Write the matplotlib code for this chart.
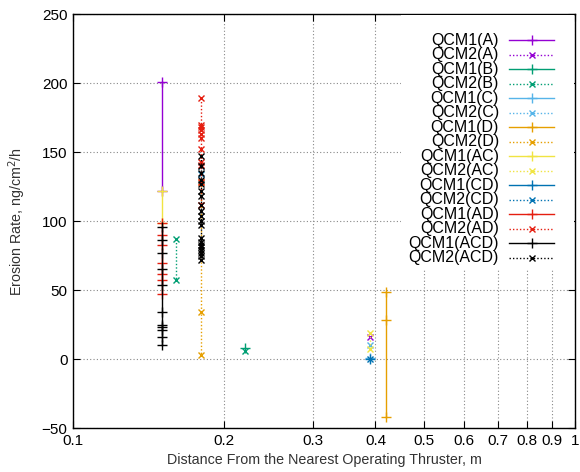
import numpy as np
import matplotlib
matplotlib.use('Agg')
import matplotlib.pyplot as plt
from matplotlib.patches import Rectangle

nan = np.nan

# erosion rate (ng/cm^2/h) vs distance (m) for each QCM / thruster combination
labels = ['QCM1(A)', 'QCM2(A)', 'QCM1(B)', 'QCM2(B)', 'QCM1(C)', 'QCM2(C)',
          'QCM1(D)', 'QCM2(D)', 'QCM1(AC)', 'QCM2(AC)', 'QCM1(CD)', 'QCM2(CD)',
          'QCM1(AD)', 'QCM2(AD)', 'QCM1(ACD)', 'QCM2(ACD)']

dist_a1 = [0.15, 0.15]
rate_a1 = [201, 122]
dist_a2 = [0.39]
rate_a2 = [16]
dist_b1 = [0.22]
rate_b1 = [8]
dist_b2 = [0.16, 0.16, nan, 0.22]
rate_b2 = [87, 57, nan, 6]
dist_c1 = [0.39]
rate_c1 = [1]
dist_c2 = [0.18, nan, 0.39]
rate_c2 = [140, nan, 10]
dist_d1 = [0.42, 0.42, 0.42]
rate_d1 = [49, 28, -42]
dist_d2 = [0.18, 0.18, 0.18]
rate_d2 = [128, 34, 3]
dist_ac1 = [0.15, 0.15]
rate_ac1 = [122, 99]
dist_ac2 = [0.39, 0.39]
rate_ac2 = [19, 7]
dist_cd1 = [0.39]
rate_cd1 = [0]
dist_cd2 = [0.18, nan, 0.39]
rate_cd2 = [134, nan, 0]
rate_ad1 = [99, 90, 83, 70, 62, 57, 47]
dist_ad1 = [0.15] * len(rate_ad1)
rate_ad2 = [189, 170, 168, 166, 163, 160, 152, 143, 141, 128, 112]
dist_ad2 = [0.18] * len(rate_ad2)
rate_acd1 = [96, 86, 77, 65, 54, 34, 25, 23, 21, 16, 10]
dist_acd1 = [0.15] * len(rate_acd1)
rate_acd2 = [147, 140, 135, 130, 127, 122, 118, 112, 107, 104, 100, 97,
             88, 85, 83, 81, 79, 77, 75, 72]
dist_acd2 = [0.18] * len(rate_acd2)

dists = [dist_a1, dist_a2, dist_b1, dist_b2, dist_c1, dist_c2, dist_d1, dist_d2,
         dist_ac1, dist_ac2, dist_cd1, dist_cd2, dist_ad1, dist_ad2, dist_acd1, dist_acd2]
rates = [rate_a1, rate_a2, rate_b1, rate_b2, rate_c1, rate_c2, rate_d1, rate_d2,
         rate_ac1, rate_ac2, rate_cd1, rate_cd2, rate_ad1, rate_ad2, rate_acd1, rate_acd2]

# gnuplot-like palette, one colour per thruster combination
colors = ['#9400d3', '#009e73', '#56b4e9', '#e69f00',
          '#f0e442', '#0072b2', '#e51e10', '#000000']

plt.rcParams['font.family'] = ['Liberation Sans', 'DejaVu Sans']

fig = plt.figure(figsize=(5.8, 4.72), dpi=100)
ax = fig.add_axes([0.126, 0.093, 0.866, 0.877])

for i, (lab, x, y) in enumerate(zip(labels, dists, rates)):
    c = colors[i // 2]
    if i % 2 == 0:
        ax.plot(x, y, color=c, ls='-', lw=1, marker='+', ms=7, mew=1, zorder=3)
    else:
        ax.plot(x, y, color=c, ls=(0, (1, 1.5)), lw=1, marker='x', ms=5,
                mew=1, zorder=3)

ax.set_xscale('log')
ax.set_xlim(0.1, 1)
ax.set_ylim(-50, 250)
xt = [0.1, 0.2, 0.3, 0.4, 0.5, 0.6, 0.7, 0.8, 0.9, 1]
ax.set_xticks(xt)
ax.set_xticklabels(['0.1', '0.2', '0.3', '0.4', '0.5', '0.6', '0.7', '0.8', '0.9', '1'])
ax.xaxis.set_minor_locator(matplotlib.ticker.NullLocator())
ax.set_yticks(range(-50, 251, 50))

ax.grid(True, color='#888888', ls=(0, (1, 2)), lw=0.8, zorder=0)
ax.tick_params(direction='in', length=5, width=0.8, top=True, right=True,
               labelsize=11, pad=4, colors='black')
for s in ax.spines.values():
    s.set_linewidth(1)

ax.set_xlabel('Distance From the Nearest Operating Thruster, m', fontsize=10.3,
              color='#333333', labelpad=4)
ax.set_ylabel('Erosion Rate, ng/cm$^2$/h', fontsize=10.3, color='#333333',
              labelpad=10)

# opaque key box drawn over the grid
ax.add_patch(Rectangle((0.653, 0.382), 0.345, 0.617, transform=ax.transAxes,
                       facecolor='white', edgecolor='none', zorder=4))
for i, lab in enumerate(labels):
    yk = 0.937 - i * 0.035
    c = colors[i // 2]
    ax.text(0.848, yk, lab, transform=ax.transAxes, ha='right', va='center',
            fontsize=11.5, zorder=5)
    if i % 2 == 0:
        ax.plot([0.868, 0.958], [yk, yk], transform=ax.transAxes, color=c,
                lw=1, zorder=5)
        ax.plot([0.913], [yk], transform=ax.transAxes, color=c, marker='+',
                ms=7, mew=1, zorder=5)
    else:
        ax.plot([0.868, 0.958], [yk, yk], transform=ax.transAxes, color=c,
                lw=1, ls=(0, (1, 1.5)), zorder=5)
        ax.plot([0.913], [yk], transform=ax.transAxes, color=c, marker='x',
                ms=5, mew=1, zorder=5)

fig.savefig('out.png', dpi=100)
